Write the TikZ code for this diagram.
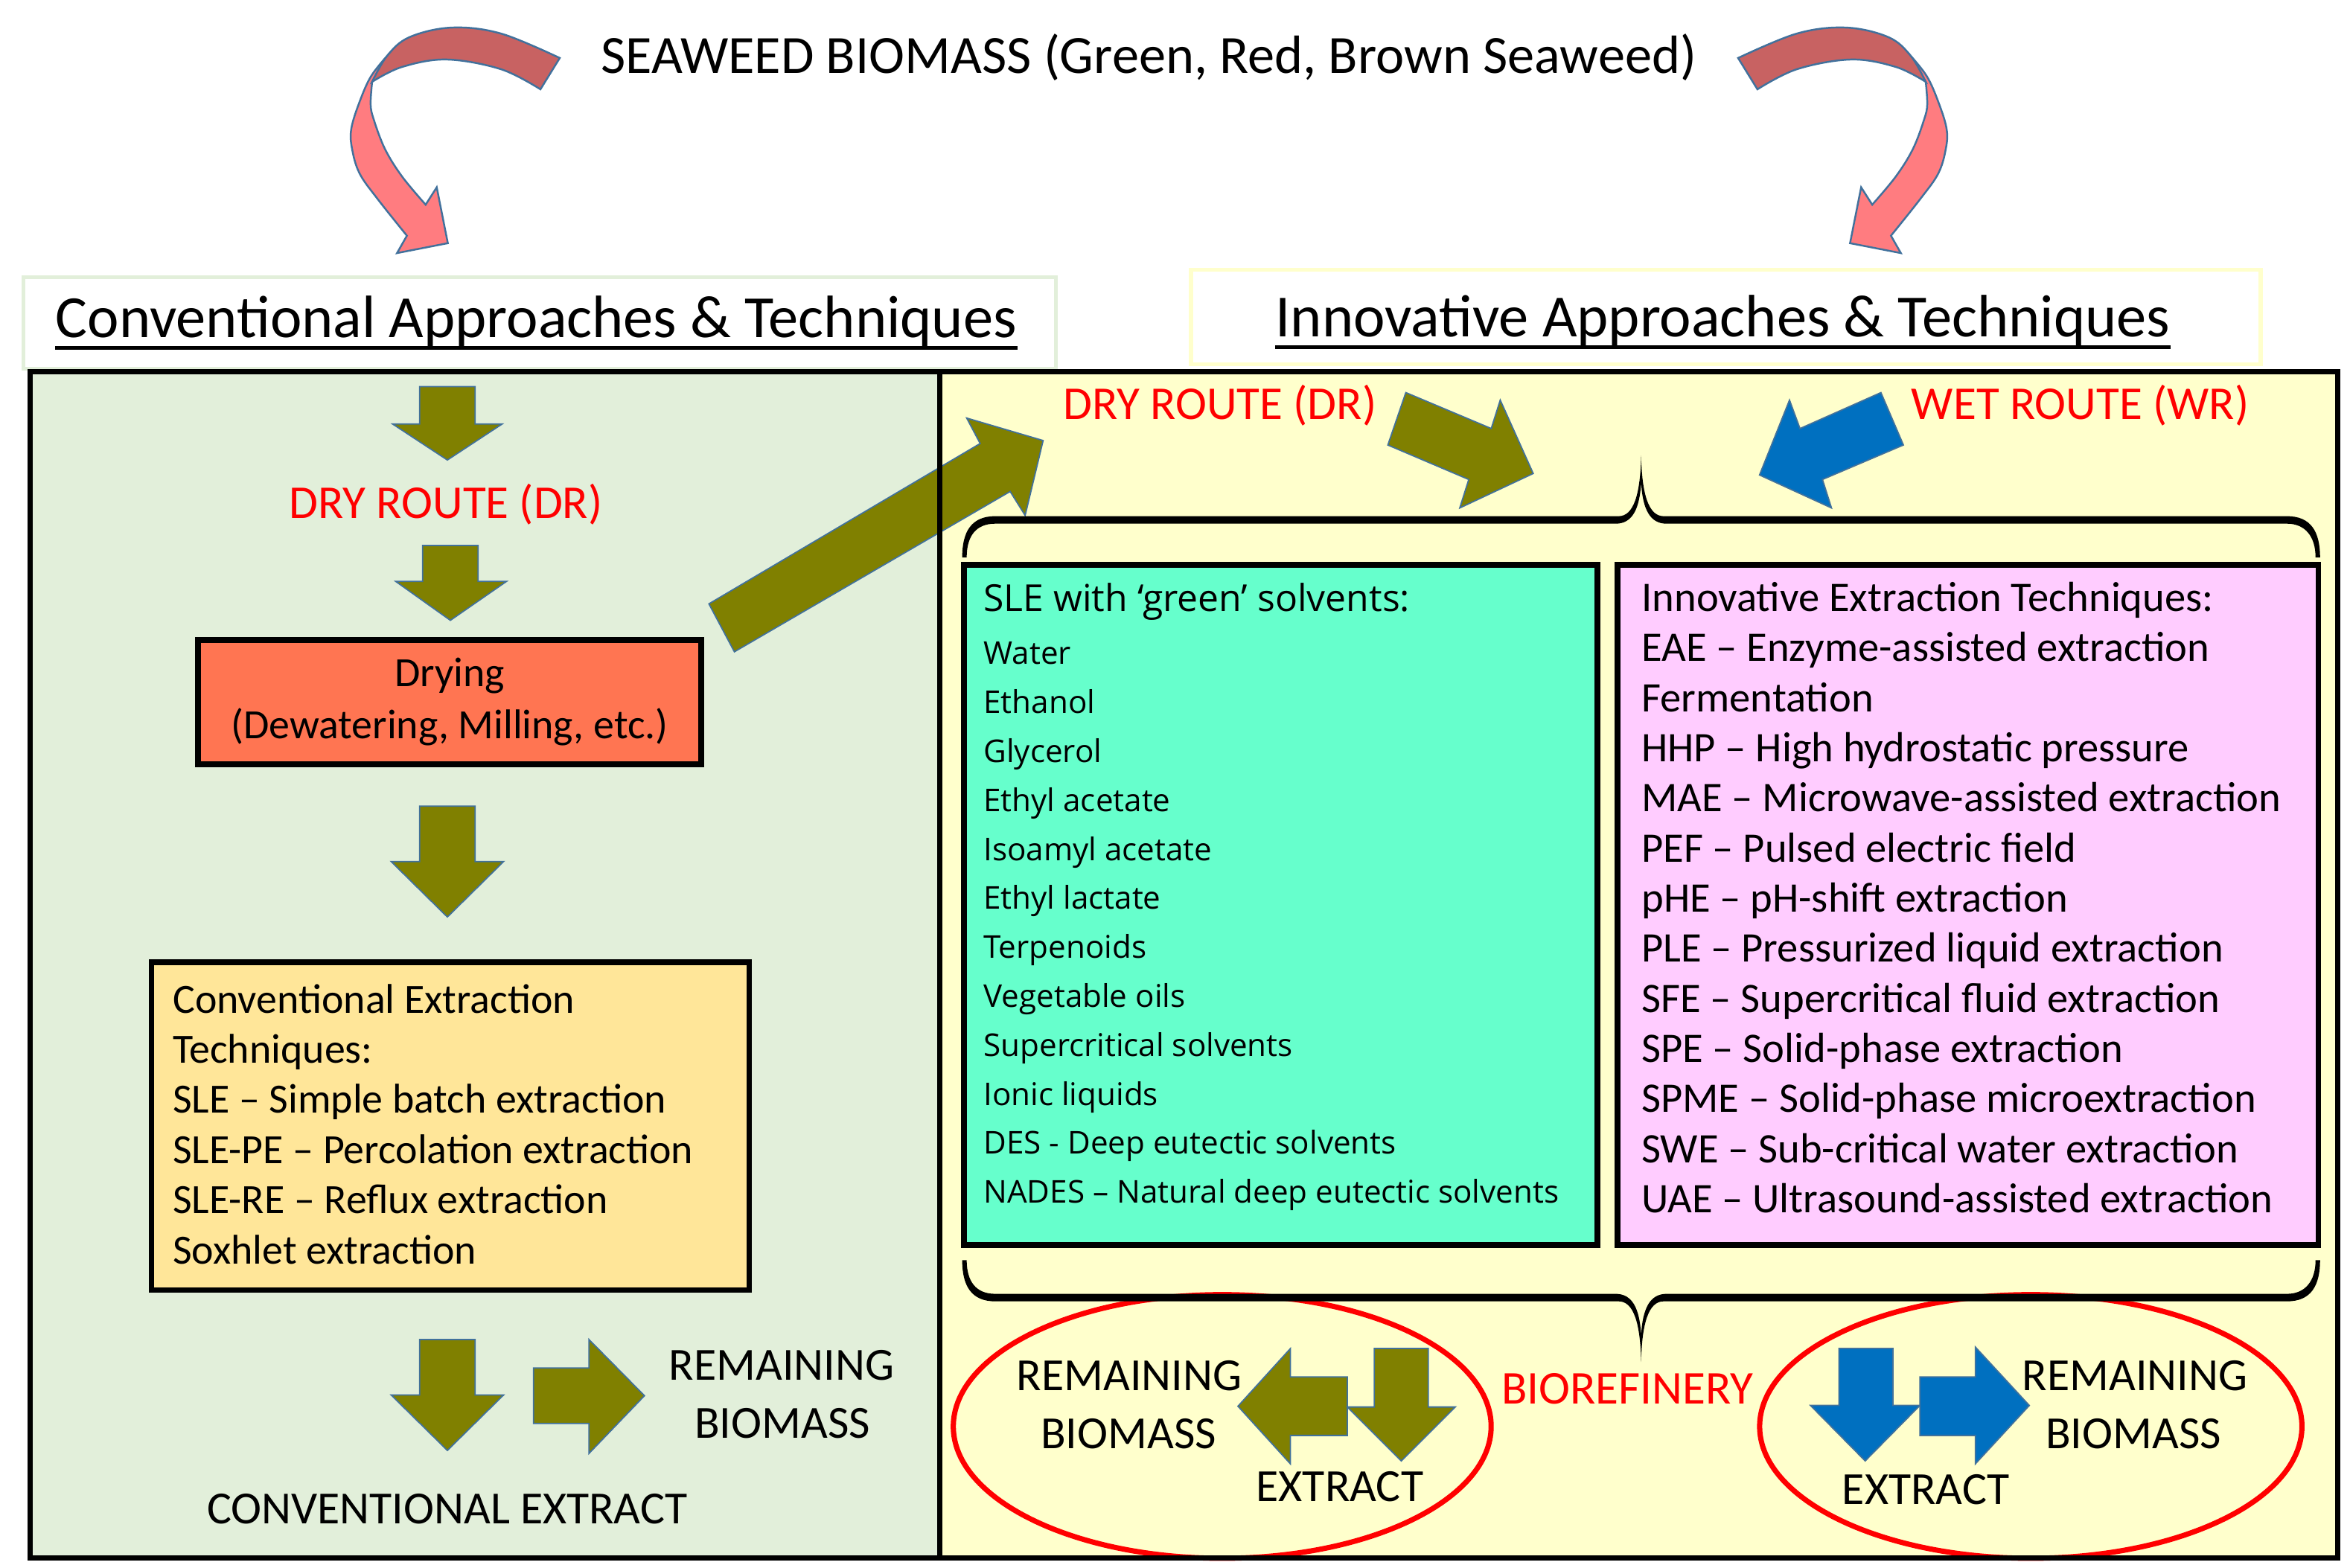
\documentclass[tikz,border=0pt]{standalone}
\usepackage{fontspec}
\setmainfont{Carlito}
\newfontfamily\solventfont{Open Sans}
\usetikzlibrary{positioning}

\definecolor{convbg}{RGB}{226,239,218}
\definecolor{innobg}{RGB}{255,255,204}
\definecolor{hdrgreen}{RGB}{226,239,218}
\definecolor{hdryellow}{RGB}{255,255,204}
\definecolor{olivearr}{RGB}{128,128,0}
\definecolor{bluearr}{RGB}{0,112,192}
\definecolor{edgeblue}{RGB}{65,113,156}
\definecolor{dryingfill}{RGB}{255,117,82}
\definecolor{convfill}{RGB}{255,230,153}
\definecolor{greenfill}{RGB}{102,255,204}
\definecolor{pinkfill}{RGB}{255,204,255}
\definecolor{curvedark}{RGB}{200,98,98}
\definecolor{curvelight}{RGB}{255,124,128}

\tikzset{
  seaarrow/.pic={
    \filldraw[curvelight, draw=edgeblue, line width=0.7pt]
      plot[smooth, tension=0.6] coordinates {(258.3,37.3) (247.5,51) (239.9,68) (234.4,85.9) (234.9,99.3) (239.9,115.7) (251.8,132.6) (271.5,157.3)}
      -- (264.9,168.9) -- (298.8,162.3) -- (291.4,125) -- (284,136.6)
      -- plot[smooth, tension=0.6] coordinates {(284,136.6) (268.2,117.7) (256.8,99.3) (249.3,79.5) (247.3,69.5) (248.3,54.6)} -- cycle;
    \filldraw[curvedark, draw=edgeblue, line width=0.7pt]
      plot[smooth, tension=0.6] coordinates {(373.5,38.7) (334.3,22.4) (301.5,18.4) (273.2,24.8) (258.3,37.3) (248.3,54.6)}
      -- plot[smooth, tension=0.6] coordinates {(248.3,54.6) (268.2,44.7) (298,39.7) (334.3,46.2) (360.6,59.6)} -- cycle;
  },
  brace/.pic={
    \fill (642,372) .. controls (642,355) and (648,344.5) .. (664,344.5) -- (1080,344.5)
      .. controls (1090,344.5) and (1094.5,330) .. (1095,304)
      .. controls (1095.5,330) and (1100,344.5) .. (1110,344.5) -- (1526,344.5)
      .. controls (1542,344.5) and (1548,355) .. (1548,372) -- (1545,372)
      .. controls (1545,358) and (1538,349.5) .. (1526,349.5) -- (1112,349.5)
      .. controls (1101,349.5) and (1096,340) .. (1095,322)
      .. controls (1094,340) and (1089,349.5) .. (1078,349.5) -- (664,349.5)
      .. controls (651,349.5) and (645,358) .. (645,372) -- cycle;
  }
}

\begin{document}
\begin{tikzpicture}[x=0.020134cm, y=-0.020134cm,
  olivearrow/.style={fill=olivearr, draw=edgeblue, line width=0.5pt},
  bluearrow/.style={fill=bluearr, draw=edgeblue, line width=0.5pt},
  headbox/.style={rectangle, fill=white, line width=1.5pt, inner sep=0pt},
  headtext/.style={anchor=base, inner sep=0pt, font=\fontsize{22.9}{27}\selectfont},
  route/.style={anchor=base, inner sep=0pt, text=red, font=\fontsize{18}{21}\selectfont},
  caption/.style={anchor=base, inner sep=0pt, font=\fontsize{17.6}{21}\selectfont},
  listbox/.style={rectangle, draw=black, line width=2.2pt, inner sep=0pt},
  solvent/.style={anchor=base west, inner sep=0pt, font=\solventfont\fontsize{12}{14}\selectfont},
  technique/.style={anchor=base west, inner sep=0pt, font=\fontsize{16.1}{19}\selectfont},
  ring/.style={draw=red, line width=2pt}]
\useasboundingbox (0,0) rectangle (1568,1046);
\fill[white] (0,0) rectangle (1568,1046);

% panels
\fill[convbg] (20,248) rectangle (627,1040);
\fill[innobg] (627,248) rectangle (1560,1040);

% top
\node[anchor=base, inner sep=0pt, font=\fontsize{20.6}{24}\selectfont] (title) at (766.4,48.7) {SEAWEED BIOMASS (Green, Red, Brown Seaweed)};
\pic at (0,0) {seaarrow};
\pic[xscale=-1] at (1533.2,0) {seaarrow};

\node[headbox, draw=hdrgreen, minimum width=13.872cm, minimum height=1.228cm] (convhead) at (360,215.5) {};
\node[headbox, draw=hdryellow, minimum width=14.376cm, minimum height=1.268cm] (innohead) at (1151.5,211.5) {};
\node[headtext] (convtitle) at (357.8,225) {Conventional Approaches \& Techniques};
\node[headtext] (innotitle) at (1149.5,224.5) {Innovative Approaches \& Techniques};
\draw[line width=1.4pt] ([yshift=-4pt]convtitle.base west) -- ([yshift=-4pt]convtitle.base east);
\draw[line width=1.4pt] ([yshift=-4pt]innotitle.base west) -- ([yshift=-4pt]innotitle.base east);

% conventional side
\filldraw[olivearrow] (280,258) -- (317,258) -- (317,283) -- (335,283) -- (298.5,307) -- (262,283) -- (280,283) -- cycle;
\node[route] (dryconv) at (297.5,346) {DRY ROUTE (DR)};
\filldraw[olivearrow] (282,364) -- (319,364) -- (319,388) -- (338,388) -- (300.5,414) -- (264,388) -- (282,388) -- cycle;
\node[listbox, fill=dryingfill, minimum width=6.765cm, minimum height=1.671cm, align=center, font=\fontsize{15.9}{19.8}\selectfont] (drying) at (300,468.5) {Drying\\(Dewatering, Milling, etc.)};
\filldraw[olivearrow] (473,403) -- (654,296) -- (645,279) -- (696,294) -- (684,344) -- (674,328) -- (490,435) -- cycle;
\filldraw[olivearrow] (280,538) -- (317,538) -- (317,575) -- (336,575) -- (298.5,612) -- (261,575) -- (280,575) -- cycle;
\node[listbox, fill=convfill, minimum width=8.033cm, minimum height=4.409cm] (convlist) at (300.5,751.5) {};
\foreach \conv [count=\i] in {Conventional Extraction, Techniques:, SLE – Simple batch extraction, SLE-PE – Percolation extraction, SLE-RE – Reflux extraction, Soxhlet extraction}
  \node[technique, font=\fontsize{15.9}{19}\selectfont] (conv\i) at (115,{676+33.5*(\i-1)}) {\conv};
\filldraw[olivearrow] (280,894) -- (317,894) -- (317,931) -- (336,931) -- (298.5,968) -- (261,931) -- (280,931) -- cycle;
\filldraw[olivearrow] (356,913) -- (393,913) -- (393,894) -- (430,931.5) -- (393,970) -- (393,950) -- (356,950) -- cycle;
\node[caption] (remconv) at (521.5,921) {REMAINING};
\node[caption] (bioconv) at (522,960) {BIOMASS};
\node[caption] (extconv) at (298.5,1017) {CONVENTIONAL EXTRACT};

% innovative side
\node[route] (dryinno) at (814,280) {DRY ROUTE (DR)};
\node[route] (wetinno) at (1388,280) {WET ROUTE (WR)};
\filldraw[olivearrow] (938,262) -- (995,286) -- (1001,267) -- (1023,316) -- (974,339) -- (980,320) -- (926,297) -- cycle;
\filldraw[bluearrow] (1255,262) -- (1201,286) -- (1194,267) -- (1174,317) -- (1222,339) -- (1216,320) -- (1270,297) -- cycle;

\node[listbox, fill=greenfill, minimum width=8.517cm, minimum height=9.141cm] (solvbox) at (854.5,604) {};
\node[listbox, fill=pinkfill, minimum width=9.423cm, minimum height=9.141cm] (techbox) at (1313,604) {};

\node[anchor=base west, inner sep=0pt, font=\solventfont\fontsize{14.2}{17}\selectfont] (solvtitle) at (656,408) {SLE with ‘green’ solvents:};
\foreach \solv [count=\i] in {Water, Ethanol, Glycerol, Ethyl acetate, Isoamyl acetate, Ethyl lactate, Terpenoids, Vegetable oils, Supercritical solvents, Ionic liquids, DES - Deep eutectic solvents, NADES – Natural deep eutectic solvents}
  \node[solvent] (solv\i) at (656,{443.5+32.68*(\i-1)}) {\solv};

\foreach \tech [count=\i] in {Innovative Extraction Techniques:, EAE – Enzyme-assisted extraction, Fermentation, HHP – High hydrostatic pressure, MAE – Microwave-assisted extraction, PEF – Pulsed electric field, pHE – pH-shift extraction, PLE – Pressurized liquid extraction, SFE – Supercritical fluid extraction, SPE – Solid-phase extraction, SPME – Solid-phase microextraction, SWE – Sub-critical water extraction, UAE – Ultrasound-assisted extraction}
  \node[technique] (tech\i) at (1095,{408+33.45*(\i-1)}) {\tech};

% biorefinery
\draw[ring] (815.5,952) ellipse [x radius=3.614cm, y radius=1.772cm];
\draw[ring] (1355,952) ellipse [x radius=3.644cm, y radius=1.772cm];
\pic at (0,0) {brace};
\pic[yscale=-1] at (0,1213) {brace};
\node[route] (bioref) at (1086,937) {BIOREFINERY};

\filldraw[olivearrow] (899,919) -- (861,919) -- (861,900) -- (826,938.5) -- (861,977) -- (861,958) -- (899,958) -- cycle;
\filldraw[olivearrow] (917,900) -- (953,900) -- (953,939) -- (971,939) -- (935,975) -- (899,939) -- (917,939) -- cycle;
\node[caption] (remdry) at (753.5,928) {REMAINING};
\node[caption] (biodry) at (753,967) {BIOMASS};
\node[caption] (extdry) at (894,1002) {EXTRACT};

\filldraw[bluearrow] (1227,900) -- (1263,900) -- (1263,938) -- (1281,938) -- (1244.5,975) -- (1208,938) -- (1227,938) -- cycle;
\filldraw[bluearrow] (1281,919) -- (1318,919) -- (1318,899) -- (1354,938) -- (1318,977) -- (1318,958) -- (1281,958) -- cycle;
\node[caption] (remwet) at (1424.5,928) {REMAINING};
\node[caption] (biowet) at (1423.5,967) {BIOMASS};
\node[caption] (extwet) at (1285,1004) {EXTRACT};

% panel frame
\draw[line width=2pt] (20,248) rectangle (1560,1040);
\draw[line width=2pt] (627,248) -- (627,1040);
\end{tikzpicture}
\end{document}
